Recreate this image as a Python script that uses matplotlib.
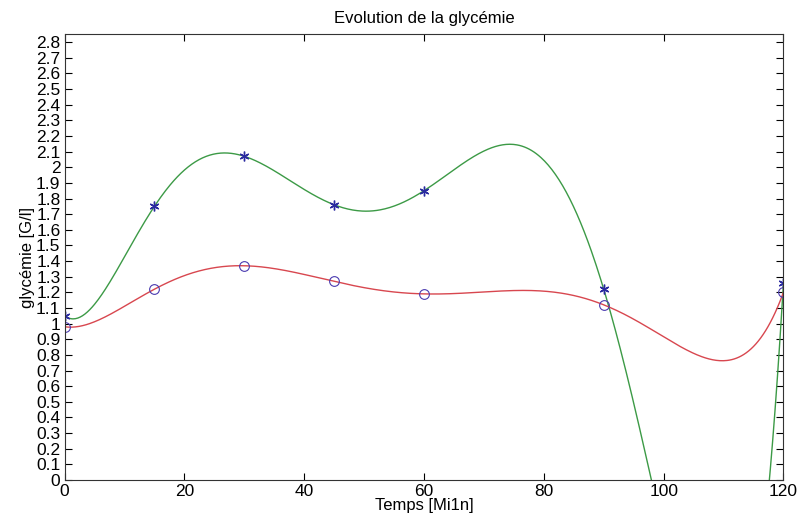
import numpy as np
import matplotlib
matplotlib.use("Agg")
import matplotlib.pyplot as plt
from matplotlib.ticker import FormatStrFormatter, MultipleLocator

plt.rcParams['font.family'] = ['Liberation Sans', 'DejaVu Sans']

temps = [0, 15, 30, 45, 60, 90, 120]
glyc_a = [1.05, 1.75, 2.07, 1.76, 1.85, 1.22, 1.26]   # stars (green fit)
glyc_b = [0.98, 1.22, 1.37, 1.27, 1.19, 1.12, 1.20]   # circles (red fit)

fig = plt.figure(figsize=(7.97, 5.16), dpi=100)
ax = fig.add_axes([0.081, 0.0698, 0.902, 0.8637])

xf = np.linspace(0, 120, 600)
pa = np.polyfit(temps, glyc_a, 6)
pb = np.polyfit(temps, glyc_b, 6)
ax.plot(xf, np.polyval(pa, xf), color='#3c9a46', lw=1.0)
ax.plot(xf, np.polyval(pb, xf), color='#d8474f', lw=1.0)
ax.plot(temps, glyc_a, marker=(6, 2, 0), ls='none', color='#2a2aa0', ms=7, mew=1.0)
ax.plot(temps, glyc_b, 'o', mfc='none', mec='#4a3ab0', ms=7, mew=0.8)

ax.set_xlim(0, 120)
ax.set_ylim(0, 2.85)
ax.xaxis.set_major_locator(MultipleLocator(20))
ax.set_yticks(np.arange(0, 2.81, 0.1))
ax.yaxis.set_major_formatter(FormatStrFormatter('%g'))
ax.tick_params(direction='in', top=True, right=True, labelsize=12.5, length=5, width=0.8, pad=3)
for s in ax.spines.values():
    s.set_linewidth(0.8)
    s.set_color('#333333')

ax.set_title('Evolution de la glycémie', fontsize=12, pad=8)
ax.set_xlabel('Temps [Mi1n]', fontsize=12, labelpad=-1)
ax.set_ylabel('glycémie [G/l]', fontsize=12, labelpad=1)

fig.savefig('out.png', dpi=100)
